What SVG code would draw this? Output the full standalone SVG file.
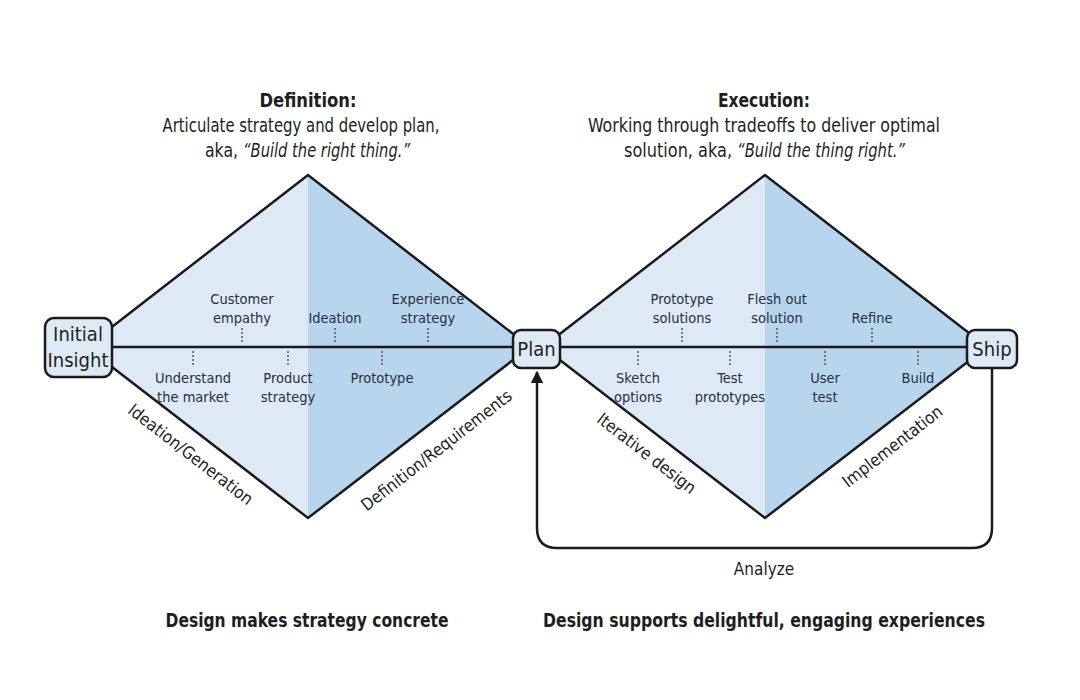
<svg xmlns="http://www.w3.org/2000/svg" width="1080" height="700" viewBox="0 0 1080 700">
<style>
text{font-family:"DejaVu Sans Condensed","DejaVu Sans","Liberation Sans",sans-serif;font-stretch:condensed;fill:#1e1e1e;text-anchor:middle}
.head{font-size:19.5px}
.st{text-anchor:start}
.it{font-style:italic}
.bold{font-weight:bold}
.lab{font-size:14.5px;fill:#2a2f3a}
.edge{font-size:17px}
.foot{font-size:19px;font-weight:bold}
.node{font-size:20px}
.box{fill:#dde9f5;stroke:#1a1a1a;stroke-width:2.5}
.dot{stroke:#555;stroke-width:1.5;stroke-dasharray:2 2}
.outline{fill:none;stroke:#1a1a1a;stroke-width:2.5}
</style>
<defs>
<marker id="arr" viewBox="0 0 10 10" refX="9" refY="5" markerWidth="5" markerHeight="5" orient="auto" markerUnits="strokeWidth"><path d="M0,0 L10,5 L0,10 z" fill="#1a1a1a"/></marker>
</defs>
<rect width="1080" height="700" fill="#ffffff"/>
<g id="titles">
<text class="head bold" x="308" y="107" textLength="97" lengthAdjust="spacingAndGlyphs">Definition:</text>
<text class="head" x="301" y="132" textLength="277" lengthAdjust="spacingAndGlyphs">Articulate strategy and develop plan,</text>
<text class="head st" x="205" y="157" textLength="33" lengthAdjust="spacingAndGlyphs">aka,</text>
<text class="head st it" x="243" y="157" textLength="167" lengthAdjust="spacingAndGlyphs">“Build the right thing.”</text>
<text class="head bold" x="764" y="107" textLength="92" lengthAdjust="spacingAndGlyphs">Execution:</text>
<text class="head" x="764" y="132" textLength="352" lengthAdjust="spacingAndGlyphs">Working through tradeoffs to deliver optimal</text>
<text class="head st" x="624" y="157" textLength="108" lengthAdjust="spacingAndGlyphs">solution, aka,</text>
<text class="head st it" x="737" y="157" textLength="168" lengthAdjust="spacingAndGlyphs">“Build the thing right.”</text>
</g>
<g id="diamond-left">
<polygon points="86,347 308,175 308,518" fill="#dde9f5"/>
<polygon points="308,175 530,347 308,518" fill="#b8d5ee"/>
<polygon class="outline" points="86,347 308,175 530,347 308,518"/>
</g>
<g id="diamond-right">
<polygon points="543,347 765,175 765,518" fill="#dde9f5"/>
<polygon points="765,175 987,347 765,518" fill="#b8d5ee"/>
<polygon class="outline" points="543,347 765,175 987,347 765,518"/>
</g>
<g id="connectors">
<line class="outline" x1="110" y1="347" x2="967" y2="347"/>
<path class="outline" d="M992,368 V528 Q992,548 972,548 H557 Q537,548 537,528 V372" marker-end="url(#arr)"/>
<text class="edge" x="764" y="575">Analyze</text>
</g>
<g id="dots">
<line class="dot" x1="242" y1="328" x2="242" y2="343"/>
<line class="dot" x1="335" y1="328" x2="335" y2="343"/>
<line class="dot" x1="428" y1="328" x2="428" y2="343"/>
<line class="dot" x1="193" y1="351" x2="193" y2="367"/>
<line class="dot" x1="288" y1="351" x2="288" y2="367"/>
<line class="dot" x1="382" y1="351" x2="382" y2="367"/>
<line class="dot" x1="682" y1="328" x2="682" y2="343"/>
<line class="dot" x1="777" y1="328" x2="777" y2="343"/>
<line class="dot" x1="872" y1="328" x2="872" y2="343"/>
<line class="dot" x1="638" y1="351" x2="638" y2="367"/>
<line class="dot" x1="730" y1="351" x2="730" y2="367"/>
<line class="dot" x1="825" y1="351" x2="825" y2="367"/>
<line class="dot" x1="918" y1="351" x2="918" y2="367"/>
</g>
<g id="labels">
<text class="lab" x="242" y="304">Customer</text>
<text class="lab" x="242" y="323">empathy</text>
<text class="lab" x="335" y="323">Ideation</text>
<text class="lab" x="428" y="304">Experience</text>
<text class="lab" x="428" y="323">strategy</text>
<text class="lab" x="193" y="383">Understand</text>
<text class="lab" x="193" y="402">the market</text>
<text class="lab" x="288" y="383">Product</text>
<text class="lab" x="288" y="402">strategy</text>
<text class="lab" x="382" y="383">Prototype</text>
<text class="lab" x="682" y="304">Prototype</text>
<text class="lab" x="682" y="323">solutions</text>
<text class="lab" x="777" y="304">Flesh out</text>
<text class="lab" x="777" y="323">solution</text>
<text class="lab" x="872" y="323">Refine</text>
<text class="lab" x="638" y="383">Sketch</text>
<text class="lab" x="638" y="402">options</text>
<text class="lab" x="730" y="383">Test</text>
<text class="lab" x="730" y="402">prototypes</text>
<text class="lab" x="825" y="383">User</text>
<text class="lab" x="825" y="402">test</text>
<text class="lab" x="918" y="383">Build</text>
</g>
<g id="edge-labels">
<text class="edge" transform="translate(187,459) rotate(37.8)">Ideation/Generation</text>
<text class="edge" transform="translate(440,455) rotate(-37.8)">Definition/Requirements</text>
<text class="edge" transform="translate(643,458) rotate(37.8)">Iterative design</text>
<text class="edge" transform="translate(896,451) rotate(-37.8)">Implementation</text>
</g>
<g id="node-initial-insight">
<rect class="box" x="45" y="318" width="67" height="59" rx="9"/>
<text class="node" x="78" y="341">Initial</text>
<text class="node" x="78" y="367">Insight</text>
</g>
<g id="node-plan">
<rect class="box" x="513" y="330" width="47" height="38" rx="8"/>
<text class="node" x="536.5" y="356">Plan</text>
</g>
<g id="node-ship">
<rect class="box" x="967" y="330" width="50" height="38" rx="8"/>
<text class="node" x="992" y="356">Ship</text>
</g>
<g id="footer">
<text class="foot" x="307" y="627" textLength="283" lengthAdjust="spacingAndGlyphs">Design makes strategy concrete</text>
<text class="foot" x="764" y="627" textLength="442" lengthAdjust="spacingAndGlyphs">Design supports delightful, engaging experiences</text>
</g>
</svg>
